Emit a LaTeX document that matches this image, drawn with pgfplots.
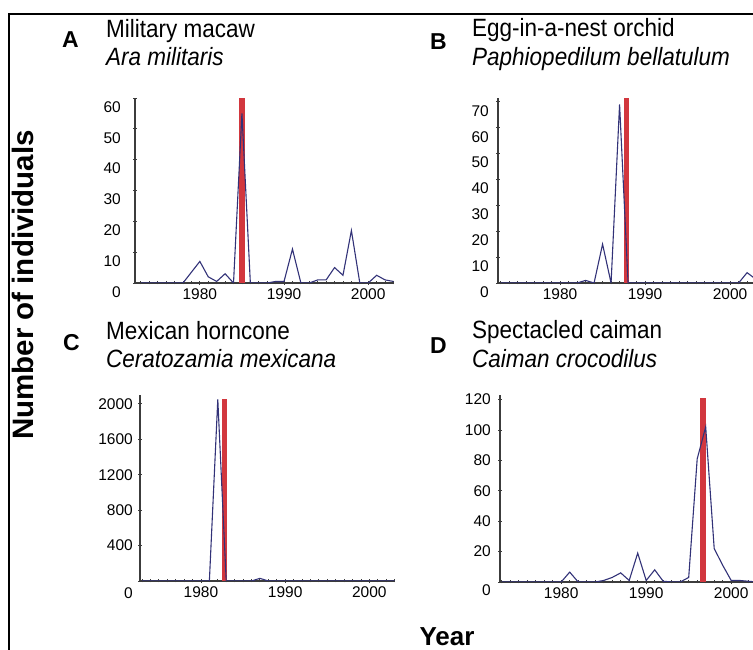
\documentclass[border=0pt]{standalone}
\usepackage{pgfplots}
\usepackage{pgfplotstable}
\pgfplotsset{compat=1.18}
\usepackage{fontspec}
\setmainfont{Liberation Sans}
\newfontfamily\titlefont[FakeStretch=0.9]{Liberation Sans}
\definecolor{blueline}{RGB}{50,50,120}
\definecolor{redbar}{RGB}{210,55,62}
\definecolor{axisgray}{RGB}{60,60,60}
\newcommand{\ticklab}{\fontsize{15.5}{18}\selectfont}
\newcommand{\ttl}{\titlefont\fontsize{25}{30}\selectfont}
\newcommand{\letterfont}{\fontsize{23}{27}\selectfont\bfseries}
\newcommand{\axlab}{\fontsize{29.5}{33}\selectfont\bfseries}

\pgfplotstableread{
x y
1973 0
1974 0
1975 0
1976 0
1977 0
1978 0
1979 3.5
1980 7
1981 2
1982 0.5
1983 3
1984 0
1985 55
1986 0
1987 0
1988 0
1989 0.5
1990 0.5
1991 11
1992 0
1993 0
1994 1
1995 1
1996 5
1997 2.5
1998 17
1999 0
2000 0
2001 2.5
2002 1
2003 0.5
}\dataA

\pgfplotstableread{
x y
1973 0
1974 0
1975 0
1976 0
1977 0
1978 0
1979 0
1980 0
1981 0
1982 0
1983 1
1984 0
1985 15
1986 0
1987 69
1988 0
1989 0
1990 0
1991 0
1992 0
1993 0
1994 0
1995 0
1996 0
1997 0
1998 0
1999 0
2000 0
2001 0
2002 4
2003 1.5
}\dataB

\pgfplotstableread{
x y
1973 0
1974 0
1975 0
1976 0
1977 0
1978 0
1979 0
1980 0
1981 0
1982 2050
1983 0
1984 0
1985 0
1986 0
1987 30
1988 0
1989 0
1990 0
1991 0
1992 0
1993 0
1994 0
1995 0
1996 0
1997 0
1998 0
1999 0
2000 0
2001 0
2002 0
2003 0
}\dataC

\pgfplotstableread{
x y
1973 0
1974 0
1975 0
1976 0
1977 0
1978 0
1979 0
1980 0
1981 6.5
1982 0
1983 0
1984 0
1985 1
1986 3
1987 6
1988 1
1989 19
1990 1
1991 8
1992 0.5
1993 0
1994 0
1995 3
1996 81
1997 102
1998 22
1999 11
2000 1
2001 1
2002 0.5
2003 0
}\dataD

\pgfplotsset{
  panel/.style={
    scale only axis, anchor=south west,
    axis lines=left, axis line style={-, line width=1.3pt, draw=axisgray},
    xtick={1980,1990,2000}, xticklabels={1980,1990,2000},
    minor xtick={1973,1974,...,2003},
    tick align=center, major tick length=4pt, minor tick length=3pt,
    every tick/.style={axisgray, line width=0.8pt},
    xticklabel style={font=\ticklab, inner sep=0pt, anchor=north, yshift=-3pt},
    yticklabel style={font=\ticklab, inner sep=0pt, anchor=east},
    ymin=0, xmax=2003,
  },
  bline/.style={blueline, line width=1.1pt, mark=none},
  rbar/.style={redbar, line width=5.5pt, mark=none},
}

\begin{document}
\begin{tikzpicture}
% frame
\draw[line width=2pt, black] (9pt,0pt) -- (9pt,636pt) -- (760pt,636pt);

% Panel A
\begin{axis}[panel, at={(135pt,367pt)}, width=258.5pt, height=185pt,
  xmin=1972.3, ymax=60, ytick={0,10,20,30,40,50,60},
  yticklabels={0,10,20,30,40,50,60},
  yticklabel style={xshift=-12pt, yshift=-9pt}]
\addplot[rbar] coordinates {(1985,0) (1985,60)};
\addplot[bline] table[x=x,y=y] {\dataA};
\end{axis}

% Panel B
\begin{axis}[panel, at={(498pt,367pt)}, width=257.6pt, height=185pt,
  xmin=1972.7, ymax=71.5, ytick={0,10,20,30,40,50,60,70},
  yticklabels={0,10,20,30,40,50,60,70},
  yticklabel style={xshift=-7pt, yshift=-9pt}]
\addplot[rbar] coordinates {(1987.8,0) (1987.8,71.5)};
\addplot[bline] table[x=x,y=y] {\dataB};
\end{axis}

% Panel C
\begin{axis}[panel, at={(140pt,69pt)}, width=254.6pt, height=186pt,
  xmin=1972.76, ymax=2100, ytick={400,800,1200,1600,2000},
  yticklabels={400,800,1200,1600,2000},
  yticklabel style={xshift=-5pt},
  extra y ticks={0}, extra y tick labels={0},
  extra y tick style={yticklabel style={yshift=-12pt}}]
\addplot[rbar] coordinates {(1982.8,0) (1982.8,2060)};
\addplot[bline] table[x=x,y=y] {\dataC};
\end{axis}

% Panel D
\begin{axis}[panel, at={(500pt,68pt)}, width=256.7pt, height=187pt,
  xmin=1972.8, ymax=123, ytick={20,40,60,80,100,120},
  yticklabels={20,40,60,80,100,120},
  yticklabel style={xshift=-7pt},
  extra y ticks={0}, extra y tick labels={0},
  extra y tick style={yticklabel style={yshift=-8pt}}]
\addplot[rbar] coordinates {(1996.7,0) (1996.7,121)};
\addplot[bline] table[x=x,y=y] {\dataD};
\end{axis}

% panel letters and titles
\node[anchor=base west, inner sep=0pt] at (62pt,602pt) {\letterfont A};
\node[anchor=base west, inner sep=0pt] at (106pt,612pt) {\ttl Military macaw};
\node[anchor=base west, inner sep=0pt] at (106pt,584pt) {\ttl\itshape Ara militaris};

\node[anchor=base west, inner sep=0pt] at (430pt,600pt) {\letterfont B};
\node[anchor=base west, inner sep=0pt] at (472pt,613pt) {\ttl Egg-in-a-nest orchid};
\node[anchor=base west, inner sep=0pt] at (472pt,584pt) {\ttl\itshape Paphiopedilum bellatulum};

\node[anchor=base west, inner sep=0pt] at (63pt,299pt) {\letterfont C};
\node[anchor=base west, inner sep=0pt] at (106pt,310pt) {\ttl Mexican horncone};
\node[anchor=base west, inner sep=0pt] at (106pt,282pt) {\ttl\itshape Ceratozamia mexicana};

\node[anchor=base west, inner sep=0pt] at (430pt,296pt) {\letterfont D};
\node[anchor=base west, inner sep=0pt] at (472pt,311pt) {\ttl Spectacled caiman};
\node[anchor=base west, inner sep=0pt] at (472pt,282pt) {\ttl\itshape Caiman crocodilus};

% axis titles
\node[rotate=90, inner sep=0pt] at (23pt,365pt) {\axlab Number of individuals};
\node[anchor=base, inner sep=0pt] at (447pt,4pt) {\fontsize{26}{30}\selectfont\bfseries Year};

\pgfresetboundingbox
\path[use as bounding box] (0pt,0pt) rectangle (753pt,650pt);
\end{tikzpicture}
\end{document}
